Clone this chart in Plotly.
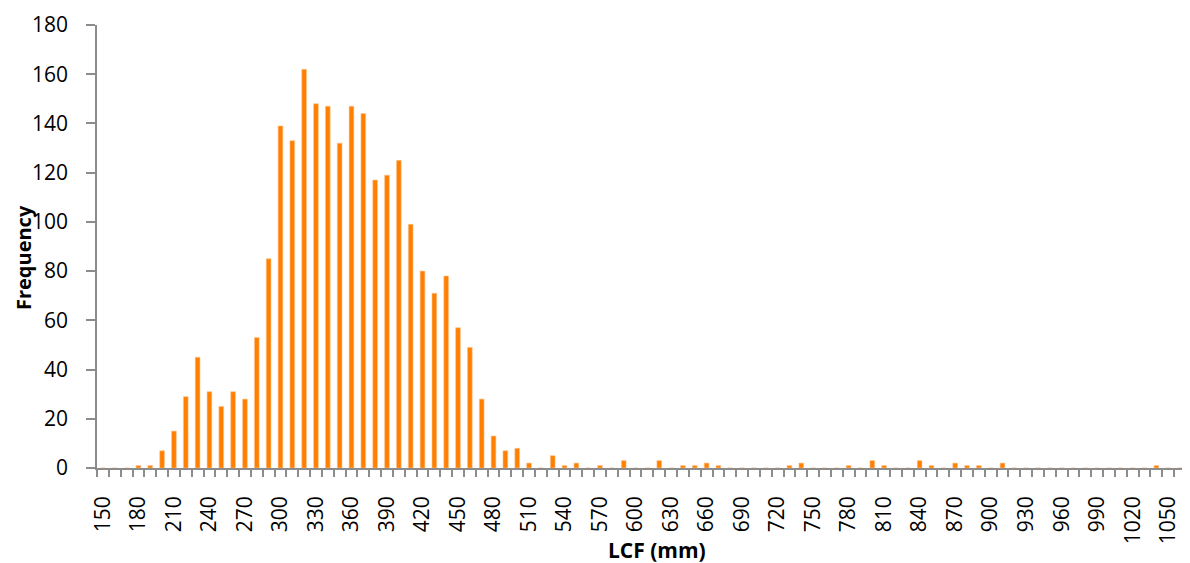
import plotly.graph_objects as go

# Bin centres (LCF, mm) and frequencies
lcf_bins = list(range(150, 1080, 10))
frequency = [
    0, 0, 0, 1, 1, 7, 15, 29, 45, 31,        # 150-240
    25, 31, 28, 53, 85, 139, 133, 162, 148, 147,  # 250-340
    132, 147, 144, 117, 119, 125, 99, 80, 71, 78,  # 350-440
    57, 49, 28, 13, 7, 8, 2, 0, 5, 1,        # 450-540
    2, 0, 1, 0, 3, 0, 0, 3, 0, 1,            # 550-640
    1, 2, 1, 0, 0, 0, 0, 0, 1, 2,            # 650-740
    0, 0, 0, 1, 0, 3, 1, 0, 0, 3,            # 750-840
    1, 0, 2, 1, 1, 0, 2, 0, 0, 0,            # 850-940
    0, 0, 0, 0, 0, 0, 0, 0, 0, 1,            # 950-1040
    0, 0, 1,                                 # 1050-1070
]
x_tick_vals = list(range(150, 1051, 30))
y_tick_vals = list(range(0, 181, 20))

AXIS_GREY = "#8c8c8c"
FONT = "Open Sans"

fig = go.Figure(
    go.Bar(
        x=lcf_bins,
        y=frequency,
        width=4.0,
        marker=dict(color="#FF7F00", line=dict(width=0.6, color="#FFC590")),
    )
)

# page body has an 8px default margin, so the figure starts at (8, 8)
fig.update_layout(
    width=1182,
    height=555,
    margin=dict(l=89, r=0, t=17, b=95, autoexpand=False),
    paper_bgcolor="white",
    plot_bgcolor="white",
    showlegend=False,
    font=dict(family=FONT, color="#000000", size=22),
)

fig.update_xaxes(
    range=[145, 1068.4],
    automargin=False,
    tickmode="array",
    tickvals=x_tick_vals,
    ticktext=[str(v) for v in x_tick_vals],
    tickangle=-90,
    ticks="",
    ticklabelstandoff=18,
    tickfont=dict(family=FONT, size=21, color="#000000"),
    showline=True,
    linecolor=AXIS_GREY,
    linewidth=1.5,
    showgrid=False,
    zeroline=False,
    minor=dict(tick0=145, dtick=10, ticks="outside", ticklen=7,
               tickwidth=1.5, tickcolor=AXIS_GREY, showgrid=False),
)

fig.update_yaxes(
    range=[0, 180],
    automargin=False,
    tickmode="array",
    tickvals=y_tick_vals,
    ticks="outside",
    ticklen=9,
    tickwidth=1.5,
    tickcolor=AXIS_GREY,
    ticklabelstandoff=14,
    tickfont=dict(family=FONT, size=21, color="#000000"),
    showline=True,
    linecolor=AXIS_GREY,
    linewidth=1.5,
    showgrid=False,
    zeroline=False,
)

fig.add_annotation(
    text="<b>Frequency</b>", xref="paper", yref="paper",
    x=-0.0677, y=0.474, xanchor="center", yanchor="middle",
    textangle=-90, showarrow=False,
    font=dict(family=FONT, size=20, color="#000000"),
)
fig.add_annotation(
    text="<b>LCF (mm)</b>", xref="paper", yref="paper",
    x=0.512, y=-0.185, xanchor="center", yanchor="middle",
    showarrow=False,
    font=dict(family=FONT, size=21, color="#000000"),
)

fig.write_html("out.html")
